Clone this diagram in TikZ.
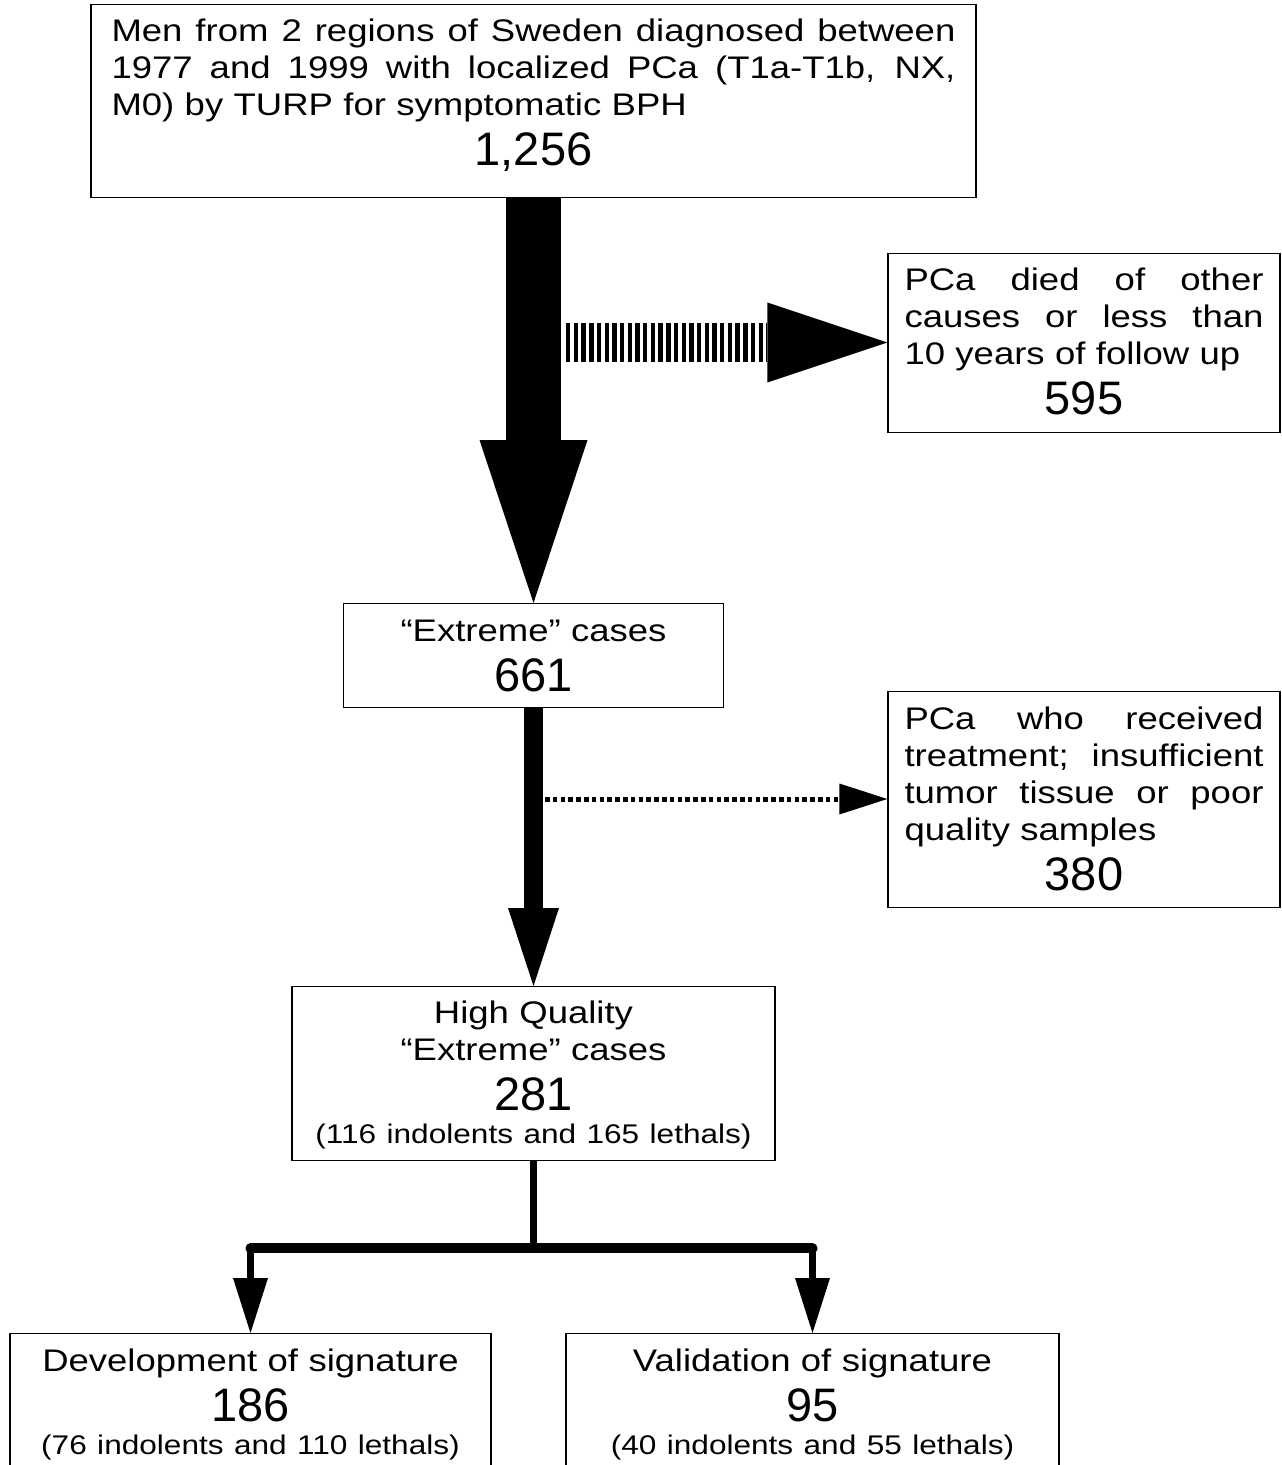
\documentclass[tikz,border=0pt]{standalone}
\usepackage{fontspec}
\setmainfont[FakeStretch=1.17]{Liberation Sans}
\newfontfamily\numfont{Liberation Sans}
\usetikzlibrary{arrows.meta,calc}
\newcommand{\fullline}[1]{{\spaceskip=0.28em plus 1fil\hbox to\hsize{#1}}\par}
\newcommand{\lastline}[1]{\hbox to\hsize{#1\hfil}\par}
\newcommand{\bignum}[1]{{\numfont\fontsize{23.5}{24.75}\selectfont #1\par}}
\newcommand{\subnote}[1]{{\fontsize{13.5}{16.5}\selectfont #1\par}}
\tikzset{
    box/.style={rectangle,draw=black,line width=0.7pt,align=center,inner ysep=0pt,anchor=north,
        font=\fontsize{15.6}{18.5}\selectfont},
    bigshaft/.style={line width=27.5pt},
    midshaft/.style={line width=9.5pt},
    stripearr/.style={line width=19.5pt,dash pattern=on 2.2pt off 1.65pt,
        -{Triangle[length=60pt,width=40pt,line width=0pt]}},
    dotarr/.style={line width=2.5pt,dash pattern=on 2.3pt off 1.6pt,
        -{Triangle[length=24pt,width=15.5pt,line width=0pt]}},
    trunk/.style={line width=3.5pt},
    bar/.style={line width=5pt,line cap=round},
    droparr/.style={line width=3.5pt,-{Triangle[length=27.5pt,width=17.5pt,line width=0pt]}}
}
\begin{document}
\begin{tikzpicture}[x=0.5pt,y=-0.5pt]
    \useasboundingbox (0,0) rectangle (1281,1465);

    \node[box,text width=422pt,inner xsep=10.25pt,text height=18.5pt,text depth=78pt] (top) at (533.5,4)
        {\fullline{Men from 2 regions of Sweden diagnosed between}
         \fullline{1977 and 1999 with localized PCa (T1a-T1b, NX,}
         \lastline{M0) by TURP for symptomatic BPH}
         \bignum{1,256}};
    \node[box,text width=179.5pt,inner xsep=8.25pt,text height=18.5pt,text depth=71pt] (died) at (1084,253)
        {\fullline{PCa died of other}
         \fullline{causes or less than}
         \lastline{10 years of follow up}
         \bignum{595}};
    \node[box,text width=180pt,inner xsep=5pt,text height=19pt,text depth=33pt] (extreme) at (533.5,603)
        {“Extreme” cases\par
         \bignum{661}};
    \node[box,text width=179.5pt,inner xsep=8.25pt,text height=19pt,text depth=89pt] (excluded) at (1084,691)
        {\fullline{PCa who received}
         \fullline{treatment; insufficient}
         \fullline{tumor tissue or poor}
         \lastline{quality samples}
         \bignum{380}};
    \node[box,text width=231.5pt,inner xsep=5pt,text height=18.5pt,text depth=68.5pt] (hq) at (533.5,986)
        {High Quality\par
         “Extreme” cases\par
         \bignum{281}
         \subnote{(116 indolents and 165 lethals)}};
    \node[box,text width=230.5pt,inner xsep=5pt,text height=19pt,text depth=60pt] (dev) at (250.5,1333)
        {Development of signature\par
         \bignum{186}
         \subnote{(76 indolents and 110 lethals)}};
    \node[box,text width=236.5pt,inner xsep=5pt,text height=19pt,text depth=60pt] (val) at (812.5,1333)
        {Validation of signature\par
         \bignum{95}
         \subnote{(40 indolents and 55 lethals)}};

    \coordinate (s1) at (566,342.5);
    \coordinate (d1) at (545,799);
    \coordinate (fork) at ($(hq.south)+(0,87)$);

    % block arrows: shaft, then head
    \draw[bigshaft] (top.south) -- ($(extreme.north)+(0,-161)$);
    \fill ($(extreme.north)+(-54,-163)$) -- (extreme.north) -- ($(extreme.north)+(54,-163)$) -- cycle;
    \draw[midshaft] (extreme.south) -- ($(hq.north)+(0,-76)$);
    \fill ($(hq.north)+(-25.5,-78)$) -- (hq.north) -- ($(hq.north)+(25.5,-78)$) -- cycle;

    \draw[stripearr] (s1) -- (s1 -| died.west);
    \draw[dotarr] (d1) -- (d1 -| excluded.west);
    \draw[trunk] (hq.south) -- (fork);
    \draw[bar] (fork -| dev.north) -- (fork -| val.north);
    \draw[droparr] (fork -| dev.north) -- (dev.north);
    \draw[droparr] (fork -| val.north) -- (val.north);
\end{tikzpicture}
\end{document}
